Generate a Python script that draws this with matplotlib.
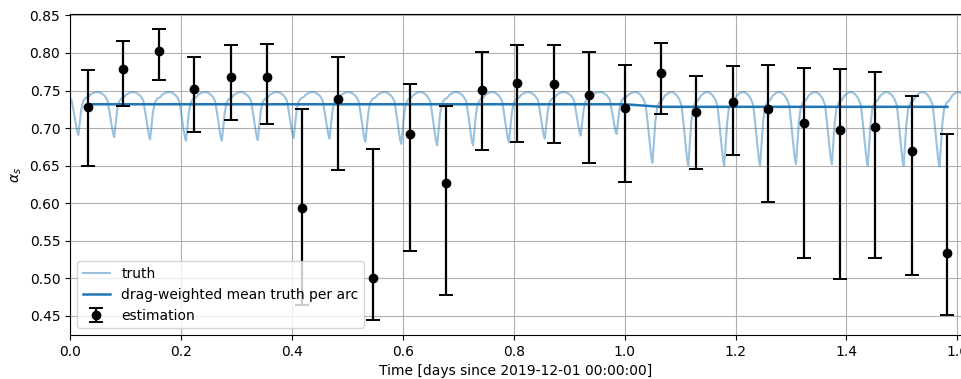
import numpy as np
import matplotlib
matplotlib.use("Agg")
import matplotlib.pyplot as plt

# estimation per arc (arc midpoints, days)
arc_t = [0.0324, 0.0961, 0.1604, 0.2240, 0.2902, 0.3545, 0.4176, 0.4836, 0.5467,
         0.6128, 0.6777, 0.7426, 0.8062, 0.8718, 0.9360, 1.0004, 1.0653, 1.1296,
         1.1956, 1.2594, 1.3235, 1.3879, 1.4522, 1.5189, 1.5820]
est = [0.7276, 0.7787, 0.8023, 0.7520, 0.7680, 0.7680, 0.5930, 0.7387, 0.5004,
       0.6916, 0.6270, 0.7510, 0.7600, 0.7587, 0.7444, 0.7271, 0.7733, 0.7217,
       0.7350, 0.7249, 0.7070, 0.6978, 0.7018, 0.6690, 0.5337]
est_hi = [0.7773, 0.8156, 0.8324, 0.7943, 0.8103, 0.8121, 0.7257, 0.7943, 0.6720,
          0.7587, 0.7297, 0.8017, 0.8103, 0.8103, 0.8010, 0.7836, 0.8137, 0.7697,
          0.7823, 0.7836, 0.7804, 0.7782, 0.7743, 0.7423, 0.6920]
est_lo = [0.6493, 0.7297, 0.7640, 0.6950, 0.7103, 0.7050, 0.4650, 0.6436, 0.4440,
          0.5364, 0.4783, 0.6703, 0.6810, 0.6796, 0.6530, 0.6280, 0.7190, 0.6450,
          0.6636, 0.6010, 0.5270, 0.4990, 0.5270, 0.5044, 0.4516]

# drag-weighted mean truth per arc
mean_truth = [0.7317] * 16 + [0.7283] * 9

# truth: one orbit shape (fraction between dip and top) + dip per orbit
orbit_P = 0.0647
truth_top = 0.748
dip_t = [0.0150, 0.0797, 0.1444, 0.2091, 0.2738, 0.3385, 0.4032, 0.4679, 0.5326,
         0.5973, 0.6620, 0.7267, 0.7914, 0.8561, 0.9208, 0.9855, 1.0502, 1.1149,
         1.1796, 1.2443, 1.3090, 1.3737, 1.4384, 1.5031, 1.5678]
dip_val = [0.691, 0.688, 0.685, 0.683, 0.683, 0.684, 0.687, 0.686, 0.682,
           0.679, 0.677, 0.677, 0.681, 0.686, 0.690, 0.692, 0.654, 0.650,
           0.650, 0.650, 0.652, 0.652, 0.650, 0.650, 0.649]
shape_phase = [0.0, 0.04, 0.08, 0.13, 0.20, 0.28, 0.35, 0.45, 0.55, 0.65, 0.74,
               0.81, 0.87, 0.93, 0.97]
shape_frac = [0.0, 0.30, 0.58, 0.78, 0.86, 0.89, 0.95, 0.99, 1.0, 0.97, 0.91,
              0.82, 0.55, 0.25, 0.07]

truth_t = []
truth_v = []
# piece before first dip
for ph, fr in zip(shape_phase, shape_frac):
    if ph >= 0.80:
        truth_t.append(dip_t[0] - orbit_P + ph * orbit_P)
        truth_v.append(dip_val[0] + fr * (truth_top - dip_val[0]))
for k in range(len(dip_t)):
    nxt = dip_val[k + 1] if k + 1 < len(dip_val) else dip_val[k]
    for ph, fr in zip(shape_phase, shape_frac):
        d = dip_val[k] if ph < 0.5 else nxt
        truth_t.append(dip_t[k] + ph * orbit_P)
        truth_v.append(d + fr * (truth_top - d))

fig = plt.figure(figsize=(9.62, 3.79), dpi=100)
ax = fig.add_axes([0.0728, 0.116, 0.927, 0.847])

ax.plot(truth_t, truth_v, color='C0', alpha=0.45, lw=1.5, label='truth')
ax.plot(arc_t, mean_truth, color='C0', lw=1.8, label='drag-weighted mean truth per arc')
yerr = [np.array(est) - np.array(est_lo), np.array(est_hi) - np.array(est)]
ax.errorbar(arc_t, est, yerr=yerr, fmt='o', color='black', ms=6, elinewidth=1.6,
            capsize=5, capthick=1.4, label='estimation')

ax.set_xlim(0, 1.608)
ax.set_ylim(0.4246, 0.8518)
ax.set_xlabel('Time [days since 2019-12-01 00:00:00]')
ax.set_ylabel(r'$\alpha_s$')
ax.grid(True)
ax.legend(loc='lower left')

fig.savefig('out.png', dpi=100)
